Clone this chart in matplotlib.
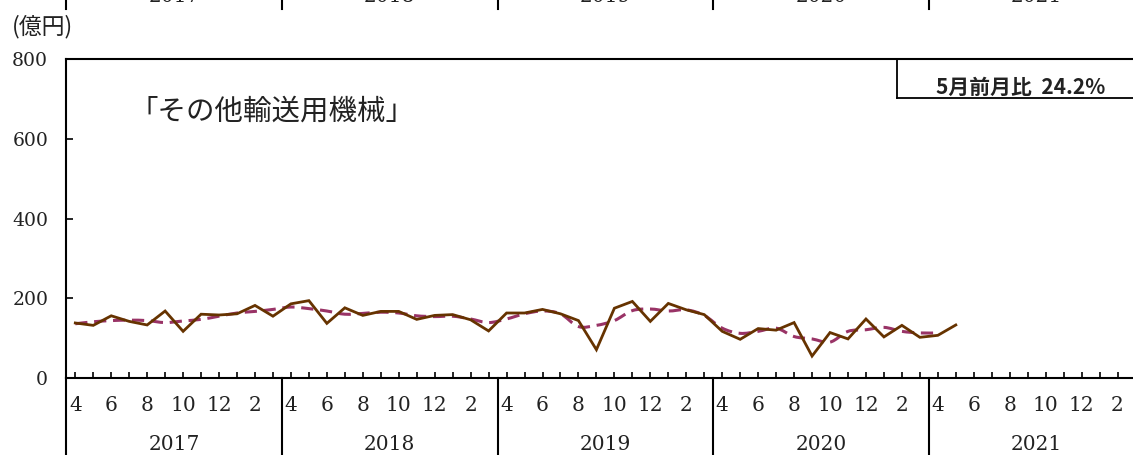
import numpy as np
import matplotlib
matplotlib.use("Agg")
import matplotlib.pyplot as plt
from matplotlib.path import Path
from matplotlib.patches import PathPatch
from matplotlib.lines import Line2D
import matplotlib.transforms as mtransforms

# --- データ（2017年4月〜） ---
years = ['2017', '2018', '2019', '2020', '2021']
month_labels = ['4', '', '6', '', '8', '', '10', '', '12', '', '2', '']

# 原系列（億円）
sales = [138, 132, 156, 142, 133, 168, 117, 160, 158, 161, 182, 155,
         186, 194, 137, 176, 157, 167, 167, 147, 157, 159, 146, 118,
         163, 163, 172, 161, 144, 71, 175, 192, 142, 187, 171, 159,
         117, 97, 124, 120, 139, 55, 114, 98, 148, 103, 132, 102,
         107, 133]

# 季節調整値（億円）
trend = [136, 141, 144, 145, 144, 139, 143, 147, 155, 163, 167, 172,
         178, 174, 168, 160, 162, 165, 163, 156, 154, 155, 148, 139,
         148, 161, 168, 161, 129, 132, 144, 169, 173, 168, 171, 157,
         125, 112, 117, 125, 104, 98, 90, 117, 121, 127, 117, 113,
         113]

title = '「その他輸送用機械」'
note = '5月前月比  24.2%'

SERIF = ['DejaVu Serif', 'Noto Sans CJK JP']
JP = ['Noto Sans CJK JP', 'DejaVu Sans']


def smooth_path(xs, ys):
    """点を通る滑らかな曲線（Catmull-Rom → Bezier）"""
    pts = np.column_stack([xs, ys]).astype(float)
    n = len(pts)
    verts = [pts[0]]
    codes = [Path.MOVETO]
    for i in range(n - 1):
        p0 = pts[max(i - 1, 0)]
        p1 = pts[i]
        p2 = pts[i + 1]
        p3 = pts[min(i + 2, n - 1)]
        c1 = p1 + (p2 - p0) / 6
        c2 = p2 - (p3 - p1) / 6
        verts += [c1, c2, p2]
        codes += [Path.CURVE4] * 3
    return Path(verts, codes)


W, H = 1133, 455
fig = plt.figure(figsize=(W / 100, H / 100), dpi=100)

x_left = 66.3
month_px = 17.97
n_months = 60
ax = fig.add_axes([x_left / W, (H - 378) / H,
                   n_months * month_px / W, 319 / H])

x = np.arange(len(sales))
ax.plot(x, sales, color='#663300', lw=2.0, solid_joinstyle='miter', zorder=3)
ax.add_patch(PathPatch(smooth_path(np.arange(len(trend)), trend),
                       fill=False, edgecolor='#993366', lw=2.2,
                       linestyle=(0, (4, 2.2)), zorder=2))

ax.set_xlim(-0.5, n_months - 0.5)
ax.set_ylim(0, 800)
ax.set_yticks([0, 200, 400, 600, 800])
ax.set_yticklabels(['0', '200', '400', '600', '800'], family=SERIF,
                   fontsize=13.5, color='#222222')
ax.set_xticks(np.arange(n_months))
ax.set_xticklabels(month_labels * 5, family=SERIF, fontsize=14.5,
                   color='#222222')
ax.tick_params(axis='y', direction='in', length=5, width=1.2, pad=13)
ax.tick_params(axis='x', direction='in', length=4, width=1.2, pad=13)
ax.spines['right'].set_visible(False)
for s in ['left', 'top', 'bottom']:
    ax.spines[s].set_linewidth(1.5)

# 年の区切り線と年ラベル
bt = mtransforms.blended_transform_factory(ax.transData, fig.transFigure)
for k, yr in enumerate(years):
    xb = -0.5 + 12 * k
    fig.add_artist(Line2D([xb, xb], [0, (H - 378) / H], transform=bt,
                          color='black', lw=1.5))
    fig.add_artist(Line2D([xb, xb], [1, 1 - 9 / H], transform=bt,
                          color='black', lw=1.5))
    fig.text(xb + 6, 11 / H, yr, transform=bt, ha='center', va='center',
             family=SERIF, fontsize=14.5, color='#222222')
    # 上のグラフの年ラベル（上端で切れている）
    fig.text(xb + 6, 1 - 2 / H, yr, transform=bt, ha='center',
             va='baseline', family=SERIF, fontsize=14.5, color='#222222')

fig.text(12 / W, 1 - 27 / H, '(億円)', family=JP, fontsize=16.5,
         ha='left', va='center', color='#222222')
fig.text(130 / W, 1 - 112 / H, title, family=JP, fontsize=20.5,
         ha='left', va='center', color='#222222')

# 前月比の枠
box_l = 897 / W
box_b = 1 - 98 / H
box_t = 1 - 59 / H
fig.add_artist(Line2D([box_l, box_l], [box_b, box_t], color='black', lw=1.3,
                      transform=fig.transFigure))
fig.add_artist(Line2D([box_l, 1.0], [box_b, box_b], color='black', lw=1.3,
                      transform=fig.transFigure))
fig.text(1021 / W, 1 - 87 / H, note, family=JP, fontsize=15,
         fontweight='bold', ha='center', va='center', color='#222222')

fig.savefig('out.png', dpi=100, facecolor='white')
